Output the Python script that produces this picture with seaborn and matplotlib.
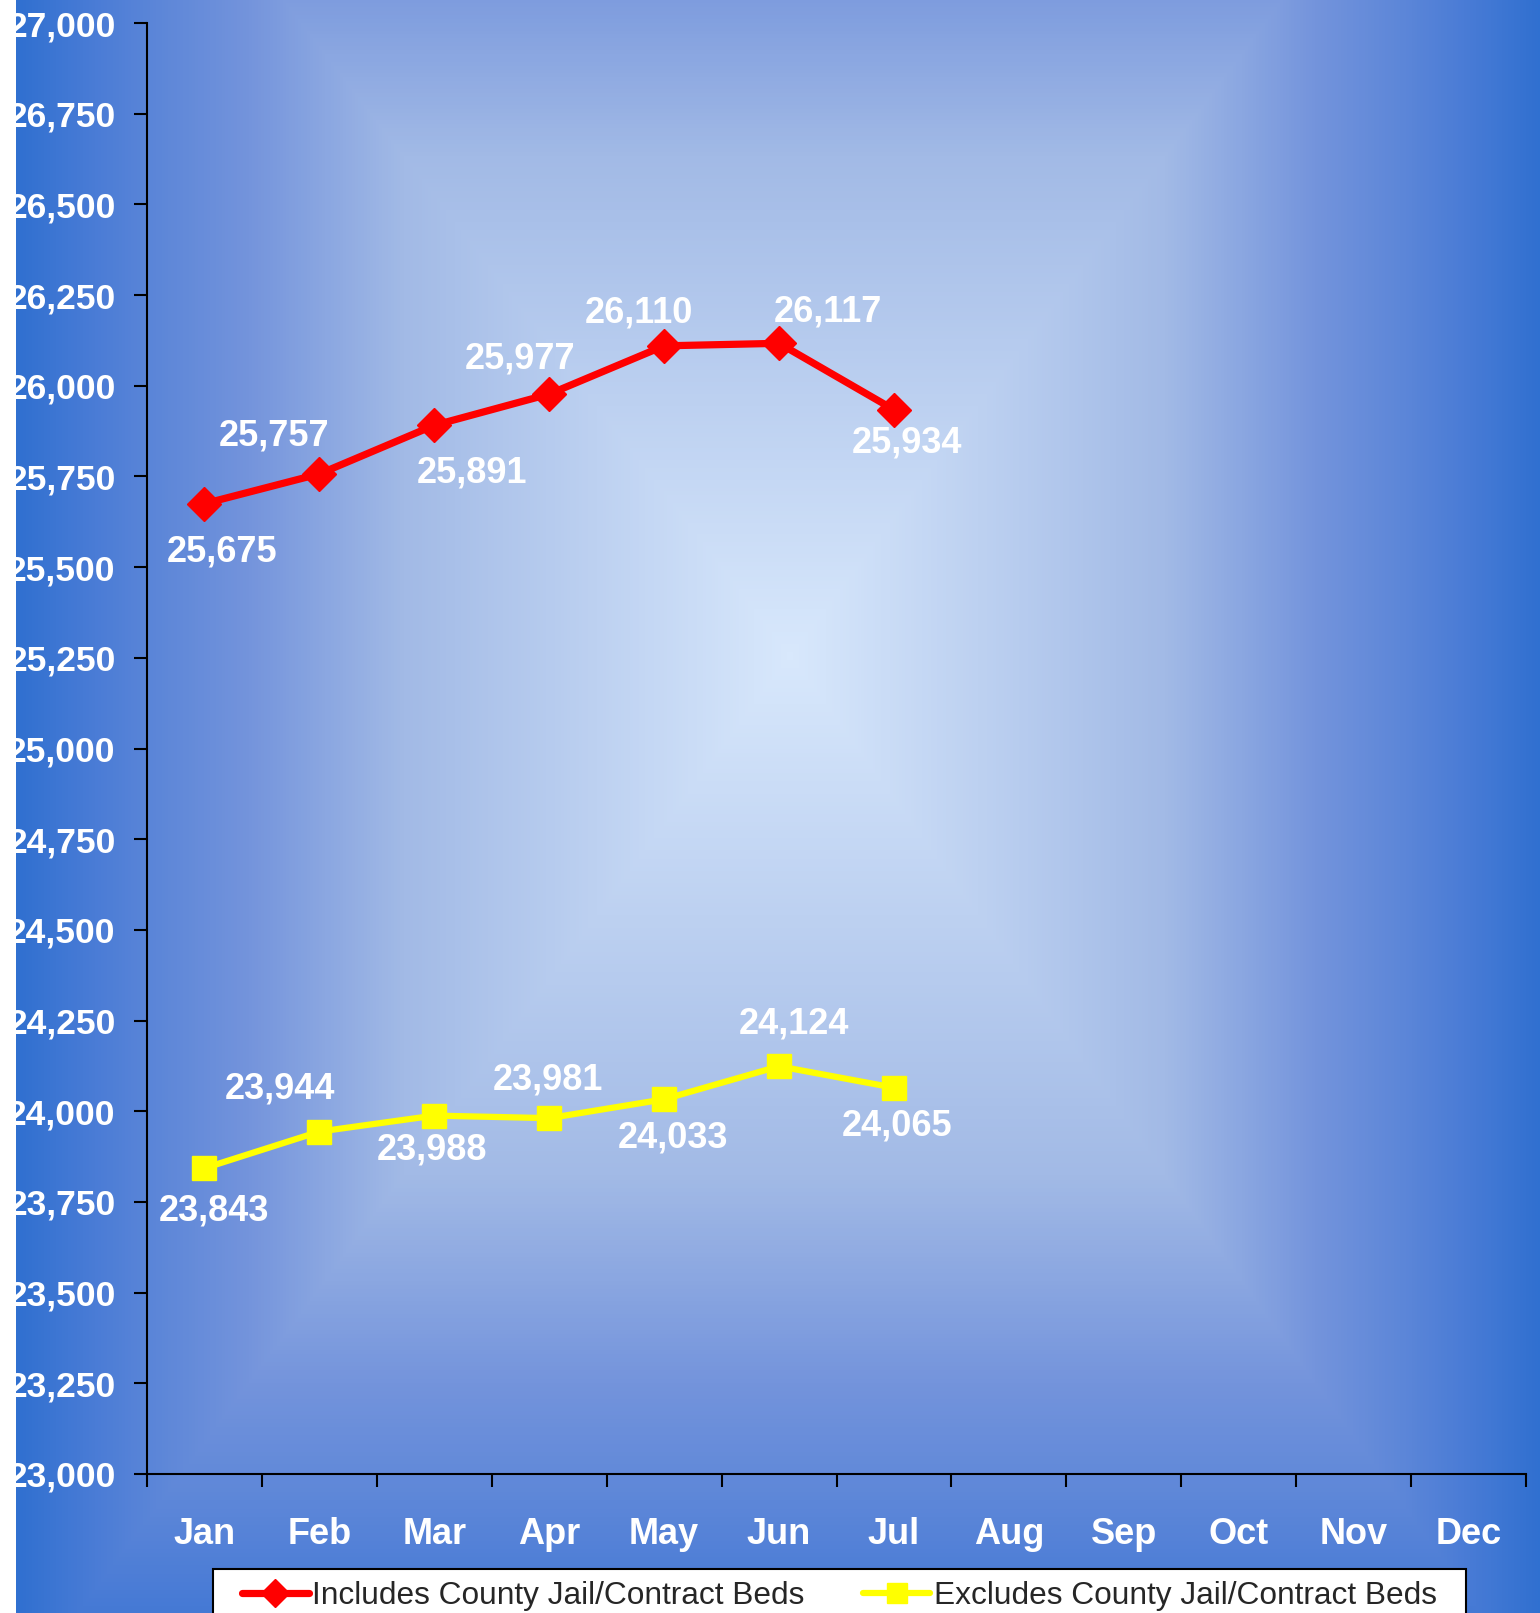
import numpy as np
import pandas as pd
import matplotlib
matplotlib.use("Agg")
import matplotlib.pyplot as plt
from matplotlib.colors import LinearSegmentedColormap
from matplotlib.patches import Rectangle
from matplotlib.ticker import StrMethodFormatter
import seaborn as sns

months = ['Jan', 'Feb', 'Mar', 'Apr', 'May', 'Jun', 'Jul', 'Aug', 'Sep', 'Oct', 'Nov', 'Dec']
data_months = ['Jan', 'Feb', 'Mar', 'Apr', 'May', 'Jun', 'Jul']
includes_beds = [25675, 25757, 25891, 25977, 26110, 26117, 25934]
excludes_beds = [23843, 23944, 23988, 23981, 24033, 24124, 24065]
series_names = ['Includes County Jail/Contract Beds', 'Excludes County Jail/Contract Beds']

# label offsets in pixels (dx, dy), dy up
inc_offsets = [(18, -48), (-45, 38), (38, -48), (-29, 35), (-25, 33), (49, 31), (13, -33)]
exc_offsets = [(9, -43), (-39, 43), (-2, -34), (-1, 38), (9, -39), (15, 42), (3, -38)]

sns.set_style("ticks")
plt.rcParams['font.family'] = ['Liberation Sans', 'DejaVu Sans']

W, H = 1540, 1613
fig = plt.figure(figsize=(W / 100, H / 100), dpi=100)

# background: rectangular gradient from centre
bg = fig.add_axes([0, 0, 1, 1], zorder=-5)
yy, xx = np.mgrid[0:H, 0:W]
cx, cy = 790, 655
tx = np.where(xx < cx, (cx - xx) / 774.0, (xx - cx) / 750.0)
ty = np.where(yy < cy, (cy - yy) / 1000.0, (yy - cy) / 1040.0)
t = np.clip(np.maximum(tx, ty), 0, 1)
cmap = LinearSegmentedColormap.from_list(
    'bg', [(0, '#d8e8fc'), (0.5, '#a2bae6'), (0.7, '#7494dc'), (0.83, '#5a85d8'),
           (0.9, '#4a7cd6'), (1, '#3070d0')])
bg.imshow(cmap(t), aspect='auto', interpolation='bilinear')
bg.set_axis_off()

ax = fig.add_axes([147 / W, 1 - 1474 / H, (1526 - 147) / W, (1474 - 23) / H])
ax.patch.set_alpha(0)

df = pd.DataFrame({
    'month': data_months,
    'pos': [months.index(m) for m in data_months],
    'inc': includes_beds,
    'exc': excludes_beds,
})

sns.lineplot(data=df, x='pos', y='inc', ax=ax, color='#ff0000', linewidth=5.2,
             marker='D', markersize=17.5, markeredgewidth=1, markeredgecolor='#ff0000',
             label=series_names[0])
sns.lineplot(data=df, x='pos', y='exc', ax=ax, color='#ffff00', linewidth=4.5,
             marker='s', markersize=17.5, markeredgewidth=1, markeredgecolor='#ffff00',
             label=series_names[1])

for x, v, (dx, dy) in zip(df['pos'], df['inc'], inc_offsets):
    ax.annotate(f"{v:,}", (x, v), xytext=(dx, dy), textcoords='offset pixels',
                ha='center', va='center', color='white', fontsize=26, fontweight='bold')
for x, v, (dx, dy) in zip(df['pos'], df['exc'], exc_offsets):
    ax.annotate(f"{v:,}", (x, v), xytext=(dx, dy), textcoords='offset pixels',
                ha='center', va='center', color='white', fontsize=26, fontweight='bold')

ax.set_xlim(-0.5, 11.5)
ax.set_ylim(23000, 27000)
ax.set_yticks(np.arange(23000, 27001, 250))
ax.yaxis.set_major_formatter(StrMethodFormatter('{x:,.0f}'))
ax.set_xticks(range(len(months)), months)
ax.set_xticks(np.arange(-0.5, 12, 1), minor=True)
ax.tick_params(axis='x', which='major', length=0, pad=31, labelsize=26, labelcolor='white')
ax.tick_params(axis='x', which='minor', length=9, width=1.5, direction='out', color='black')
ax.tick_params(axis='y', length=9.5, width=1.5, direction='out', color='black', pad=13,
               labelsize=25.5, labelcolor='white')
for lab in ax.get_xticklabels() + ax.get_yticklabels():
    lab.set_fontweight('bold')
ax.set_xlabel('')
ax.set_ylabel('')
for side in ['top', 'right']:
    ax.spines[side].set_visible(False)
for side in ['left', 'bottom']:
    ax.spines[side].set_color('black')
    ax.spines[side].set_linewidth(1.5)

# legend box (runs off the bottom edge, as in the original)
fig.patches.append(Rectangle((213 / W, -0.02), 1253 / W, 0.02 + 1 - 1569 / H,
                             transform=fig.transFigure, facecolor='white',
                             edgecolor='black', linewidth=1.5, zorder=8))
handles, labels = ax.get_legend_handles_labels()
ax.get_legend().remove()
leg = fig.legend(handles, labels, loc='center left', ncol=2,
                 bbox_to_anchor=(242 / W, 1 - 1596 / H), borderaxespad=0, borderpad=0,
                 fontsize=22.8, frameon=False, handlelength=2.1, handletextpad=0.12,
                 columnspacing=1.85)
leg.set_zorder(9)
for h in leg.legend_handles:
    h.set_markersize(14)

# white strip at the left edge
fig.patches.append(Rectangle((0, 0), 16 / W, 1, transform=fig.transFigure,
                             facecolor='white', edgecolor='none', zorder=10))

fig.savefig('out.png', dpi=100)
